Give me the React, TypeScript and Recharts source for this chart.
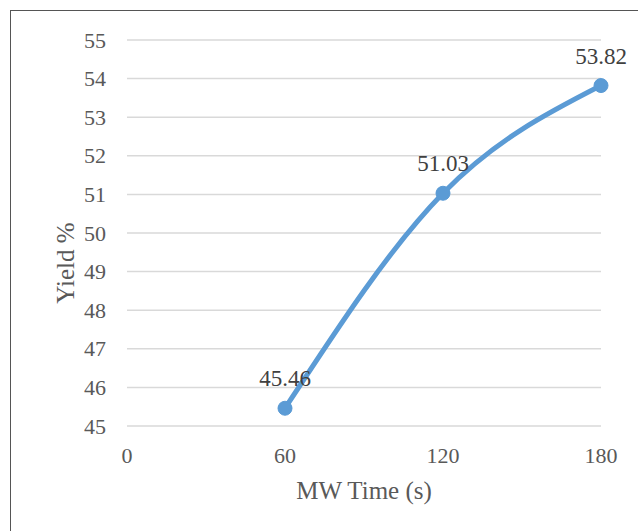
import React from 'react';
import { LineChart, Line, XAxis, YAxis, CartesianGrid, LabelList } from 'recharts';

const times = [60, 120, 180];
const yields = [45.46, 51.03, 53.82];
const xTicks = [0, 60, 120, 180];
const yTicks = [45, 46, 47, 48, 49, 50, 51, 52, 53, 54, 55];

const data = times.map((t, i) => ({ time: t, yield: yields[i] }));

const FONT = '"Liberation Serif", "Times New Roman", serif';
const BLUE = '#5B9BD5';
const TXT = '#595959';

const YTitle = (props: any) => {
  const vb = props.viewBox || {};
  const x = (vb.x ?? 0) + 65;
  const y = (vb.y ?? 0) + (vb.height ?? 0) / 2 + 30;
  return (
    <text x={x} y={y} transform={`rotate(-90, ${x}, ${y})`} textAnchor="middle" dominantBaseline="central"
      fill={TXT} style={{ fontFamily: FONT, fontSize: 25 }}>
      Yield %
    </text>
  );
};

const XTitle = (props: any) => {
  const vb = props.viewBox || {};
  const x = (vb.x ?? 0) + (vb.width ?? 0) / 2;
  const y = (vb.y ?? 0) + (vb.height ?? 0) - 32;
  return (
    <text x={x} y={y} textAnchor="middle" fill={TXT} style={{ fontFamily: FONT, fontSize: 25 }}>
      MW Time (s)
    </text>
  );
};

const XTick = (props: any) => {
  const { x, y, payload } = props;
  return (
    <text x={x} y={y + 16} textAnchor="middle" fill={TXT} style={{ fontFamily: FONT, fontSize: 22 }}>
      {payload.value}
    </text>
  );
};

const YTick = (props: any) => {
  const { x, y, payload } = props;
  return (
    <text x={x} y={y + 7.5} textAnchor="end" fill={TXT} style={{ fontFamily: FONT, fontSize: 22 }}>
      {payload.value}
    </text>
  );
};

const PointLabel = (props: any) => {
  const { x, y, value } = props;
  return (
    <text x={x} y={y - 22} textAnchor="middle" fill="#404040" style={{ fontFamily: FONT, fontSize: 23 }}>
      {Number(value).toFixed(2)}
    </text>
  );
};

export default function App() {
  return (
    <div style={{ position: 'absolute', left: 0, top: 0, width: 638, height: 531, overflow: 'hidden', background: '#fff', fontFamily: FONT }}>
      <div style={{ position: 'absolute', left: 10, top: 10, width: 700, height: 600, border: '1px solid #555', boxSizing: 'border-box' }} />
      <div style={{ position: 'absolute', left: 0, top: 0 }}>
        <LineChart width={638} height={531} data={data} margin={{ top: 40, right: 37, bottom: 0, left: 0 }}>
          <CartesianGrid vertical={false} stroke="#d9d9d9" strokeWidth={1.5} />
          <XAxis
            dataKey="time"
            type="number"
            domain={[0, 180]}
            ticks={xTicks}
            axisLine={false}
            tickLine={false}
            tickSize={0}
            tickMargin={21}
            height={105}
            tick={<XTick />}
            label={<XTitle />}
          />
          <YAxis
            type="number"
            domain={[45, 55]}
            ticks={yTicks}
            interval={0}
            axisLine={false}
            tickLine={false}
            tickSize={0}
            tickMargin={21}
            width={127}
            tick={<YTick />}
            label={<YTitle />}
          />
          <Line
            type="natural"
            dataKey="yield"
            stroke={BLUE}
            strokeWidth={5}
            dot={{ r: 7, fill: BLUE, stroke: BLUE, strokeWidth: 1 }}
            isAnimationActive={false}
          >
            <LabelList dataKey="yield" content={<PointLabel />} />
          </Line>
        </LineChart>
      </div>
    </div>
  );
}
